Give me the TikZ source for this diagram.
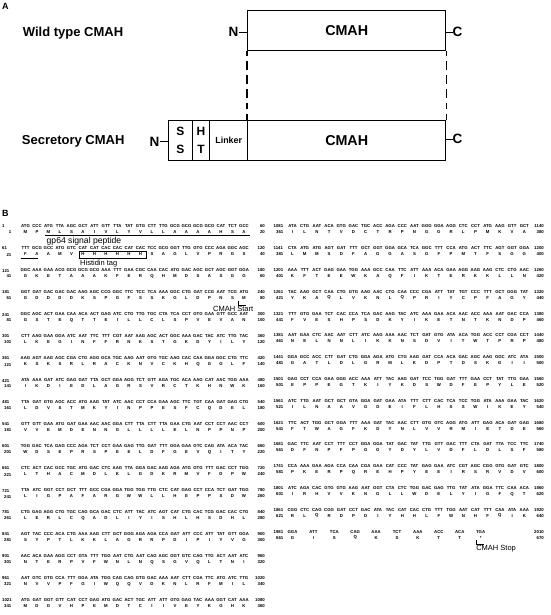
\documentclass[tikz,border=0pt]{standalone}
\usepackage{fontspec}
\setmainfont{Liberation Sans}
\usetikzlibrary{calc}
\tikzset{
 box/.style={draw, line width=1.4pt, inner sep=0, anchor=north west},
 lbl/.style={font=\fontsize{13}{15}\selectfont\bfseries, inner sep=0},
 nc/.style={font=\fontsize{13.5}{15}\selectfont\bfseries, inner sep=0},
 ln/.style={line width=1.4pt},
 seq/.style={font=\fontsize{4.3}{5}\selectfont\bfseries, inner sep=0},
 ann/.style={font=\fontsize{8.6}{10}\selectfont, inner sep=0, anchor=west},
 anns/.style={font=\fontsize{7.5}{9}\selectfont, inner sep=0, anchor=west},
 mk/.style={line width=0.9pt},
 vdash/.style={line width=1.4pt, dash pattern=on 5pt off 5pt on 8.5pt off 5.5pt on 8.5pt off 5.5pt on 8.5pt off 5.5pt on 6pt off 5pt on 7pt}
}
\newcommand\seqcolL{\def\cnx{2}\def\cxo{25.5}\def\cdx{11.5}\def\cex{265}\def\cpx{11.5}\def\cyo{226.5}\def\cdy{22}}
\newcommand\seqcolR{\def\cnx{273.5}\def\cxo{292.5}\def\cdx{12.2}\def\cex{544}\def\cpx{283.5}\def\cyo{226.5}\def\cdy{21.8}}
\newcommand\seqcolS{\def\cnx{273.5}\def\cxo{292.5}\def\cdx{20.9}\def\cex{544}\def\cpx{283.5}\def\cyo{226.5}\def\cdy{21.8}}
% #1 name, #2 row index, #3 dna start, #4 codons, #5 dna end, #6 aa start, #7 aas, #8 aa end, #9 column
\newcommand\seqrow[9]{%
  \csname seqcol#9\endcsname
  \pgfmathsetmacro\yy{\cyo+\cdy*#2}%
  \pgfmathsetmacro\yp{\yy+6}%
  \node[seq,anchor=west] (#1n) at (\cnx,\yy) {#3};
  \foreach \c [count=\i] in {#4} {\node[seq] (#1c\i) at ({\cxo+(\i-1)*\cdx},\yy) {\c};}
  \node[seq,anchor=east] (#1e) at (\cex,\yy) {#5};
  \node[seq,anchor=east] (#1m) at (\cpx,\yp) {#6};
  \foreach \c [count=\i] in {#7} {\node[seq] (#1p\i) at ({\cxo+(\i-1)*\cdx},\yp) {\c};}
  \node[seq,anchor=east] (#1f) at (\cex,\yp) {#8};
}
\begin{document}
\begin{tikzpicture}[x=1pt,y=-1pt]
\useasboundingbox (0,0) rectangle (550,615);
% ---------- Panel A ----------
\node[font=\fontsize{9}{10}\selectfont\bfseries, inner sep=0, anchor=west] (pA) at (2,6) {A};
\node[lbl, anchor=west] (wtl) at (22.7,33.3) {Wild type CMAH};
\node[lbl, anchor=west] (scl) at (21.7,141.7) {Secretory CMAH};
\node[box, minimum width=198pt, minimum height=40pt, font=\fontsize{14.3}{16}\selectfont\bfseries] (wt) at (247,10) {CMAH};
\node[nc, anchor=east] (wN) at (238.5,32.3) {N};
\draw[ln] (wN.east) -- (wN.east -| wt.west);
\node[nc, anchor=west] (wC) at (452.5,32.3) {C};
\draw[ln] (wC.west -| wt.east) -- (wC.west);
\node[box, minimum width=23.5pt, minimum height=40pt, align=center, font=\fontsize{12}{18}\selectfont\bfseries] (ss) at (168,120) {S\\S};
\node[box, minimum width=17.5pt, minimum height=40pt, align=center, font=\fontsize{12}{18}\selectfont\bfseries] (ht) at (191.5,120) {H\\T};
\node[box, minimum width=38pt, minimum height=40pt, font=\fontsize{8.9}{10}\selectfont\bfseries] (lk) at (209,120) {Linker};
\node[box, minimum width=198pt, minimum height=40pt, font=\fontsize{14.3}{16}\selectfont\bfseries] (cm) at (247,120) {CMAH};
\node[nc, anchor=east] (sN) at (159.5,141.7) {N};
\draw[ln] (sN.east) -- (sN.east -| ss.west);
\node[nc, anchor=west] (sC) at (452.5,139.3) {C};
\draw[ln] (sC.west -| cm.east) -- (sC.west);
\draw[vdash] (wt.south west) -- (cm.north west);
\draw[vdash] (wt.south east) -- (cm.north east);
% ---------- Panel B ----------
\node[font=\fontsize{9}{10}\selectfont\bfseries, inner sep=0, anchor=west] (pB) at (2,213) {B};
\seqrow{La}{0}{1}{ATG,CCC,ATG,TTA,AGC,GCT,ATT,GTT,TTA,TAT,GTG,CTT,TTG,GCG,GCG,GCG,GCG,CAT,TCT,GCC}{60}{1}{M,P,M,L,S,A,I,V,L,Y,V,L,L,A,A,A,A,H,S,A}{20}{L}
\seqrow{Lb}{1}{61}{TTT,GCG,GCC,ATG,GTC,CAT,CAT,CAC,CAC,CAT,CAC,TCC,GCG,GGT,TTG,GTG,CCC,AGA,GGC,AGC}{120}{21}{F,A,A,M,V,H,H,H,H,H,H,S,A,G,L,V,P,R,G,S}{40}{L}
\seqrow{Lc}{2}{121}{GGC,AAA,GAA,ACG,GCG,GCG,GCG,AAA,TTT,GAA,CGC,CAA,CAC,ATG,GAC,AGC,GCT,AGC,GGT,GGA}{180}{41}{G,K,E,T,A,A,A,K,F,E,R,Q,H,M,D,S,A,S,G,G}{60}{L}
\seqrow{Ld}{3}{181}{GGT,GAT,GAC,GAC,GAC,AAG,AGC,CCG,GGC,TTC,TCC,TCA,AAA,GGC,CTG,GAT,CCG,AAT,TCG,ATG}{240}{61}{G,D,D,D,D,K,S,P,G,F,S,S,K,G,L,D,P,N,S,M}{80}{L}
\seqrow{Le}{4}{241}{GGC,AGC,ACT,GAA,CAA,ACA,ACT,GAG,ATC,CTG,TTG,TGC,CTA,TCA,CCT,GTG,GAA,GTT,GCC,AAT}{300}{81}{G,S,T,E,Q,T,T,E,I,L,L,C,L,S,P,V,E,V,A,N}{100}{L}
\seqrow{Lf}{5}{301}{CTT,AAG,GAA,GGA,ATC,AAT,TTC,TTT,CGT,AAT,AAG,AGC,ACT,GGC,AAA,GAC,TAC,ATC,TTG,TAC}{360}{101}{L,K,E,G,I,N,F,F,R,N,K,S,T,G,K,D,Y,I,L,Y}{120}{L}
\seqrow{Lg}{6}{361}{AAG,AGT,AAG,AGC,CGA,CTG,AGG,GCA,TGC,AAG,AAT,GTG,TGC,AAG,CAC,CAA,GGA,GGC,CTG,TTC}{420}{121}{K,S,K,S,R,L,R,A,C,K,N,V,C,K,H,Q,G,G,L,F}{140}{L}
\seqrow{Lh}{7}{421}{ATA,AAA,GAT,ATC,GAG,GAT,TTA,GCT,GGA,AGG,TCT,GTT,AGA,TGC,ACA,AAG,CAT,AAC,TGG,AAA}{480}{141}{I,K,D,I,E,D,L,A,G,R,S,V,R,C,T,K,H,N,W,K}{160}{L}
\seqrow{Li}{8}{481}{TTA,GAT,GTG,AGC,ACC,ATG,AAG,TAT,ATC,AAC,CCT,CCA,GAA,AGC,TTC,TGT,CAA,GAT,GAG,CTG}{540}{161}{L,D,V,S,T,M,K,Y,I,N,P,P,E,S,F,C,Q,D,E,L}{180}{L}
\seqrow{Lj}{9}{541}{GTT,GTT,GAA,ATG,GAT,GAA,AAC,AAC,GGA,CTT,TTA,CTT,TTA,GAA,CTG,AAT,CCT,CCT,AAC,CCT}{600}{181}{V,V,E,M,D,E,N,N,G,L,L,L,L,E,L,N,P,P,N,P}{200}{L}
\seqrow{Lk}{10}{601}{TGG,GAC,TCA,GAG,CCC,AGA,TCT,CCT,GAA,GAG,TTG,GAT,TTT,GGA,GAA,GTC,CAG,ATA,ACA,TAC}{660}{201}{W,D,S,E,P,R,S,P,E,E,L,D,F,G,E,V,Q,I,T,Y}{220}{L}
\seqrow{Ll}{11}{661}{CTC,ACT,CAC,GCC,TGC,ATG,GAC,CTC,AAG,TTA,GGA,GAC,AAG,AGA,ATG,GTG,TTT,GAC,CCT,TGG}{720}{221}{L,T,H,A,C,M,D,L,K,L,G,D,K,R,M,V,F,D,P,W}{240}{L}
\seqrow{Lm}{12}{721}{TTA,ATC,GGT,CCT,GCT,TTT,GCC,CGA,GGA,TGG,TGG,TTG,CTC,CAT,GAG,CCT,CCA,TCT,GAT,TGG}{780}{241}{L,I,G,P,A,F,A,R,G,W,W,L,L,H,E,P,P,S,D,W}{260}{L}
\seqrow{Lo}{13}{781}{CTG,GAG,AGG,CTG,TGC,CAG,GCA,GAC,CTC,ATT,TAC,ATC,AGT,CAT,CTG,CAC,TCG,GAC,CAC,CTG}{840}{261}{L,E,R,L,C,Q,A,D,L,I,Y,I,S,H,L,H,S,D,H,L}{280}{L}
\seqrow{Lq}{14}{841}{AGT,TAC,CCC,ACA,CTG,AAA,AAG,CTT,GCT,GGG,AGA,AGA,CCA,GAT,ATT,CCC,ATT,TAT,GTT,GGA}{900}{281}{S,Y,P,T,L,K,K,L,A,G,R,R,P,D,I,P,I,Y,V,G}{300}{L}
\seqrow{Lr}{15}{901}{AAC,ACA,GAA,AGG,CCT,GTA,TTT,TGG,AAT,CTG,AAT,CAG,AGC,GGT,GTC,CAG,TTG,ACT,AAT,ATC}{960}{301}{N,T,E,R,P,V,F,W,N,L,N,Q,S,G,V,Q,L,T,N,I}{320}{L}
\seqrow{Ls}{16}{961}{AAT,GTC,GTG,CCA,TTT,GGA,ATA,TGG,CAG,CAG,GTG,GAC,AAA,AAT,CTT,CGA,TTC,ATG,ATC,TTG}{1020}{321}{N,V,V,P,F,G,I,W,Q,Q,V,D,K,N,L,R,F,M,I,L}{340}{L}
\seqrow{Lt}{17}{1021}{ATG,GAT,GGT,GTT,CAT,CCT,GAG,ATG,GAC,ACT,TGC,ATT,ATT,GTG,GAG,TAC,AAA,GGT,CAT,AAA}{1080}{341}{M,D,G,V,H,P,E,M,D,T,C,I,I,V,E,Y,K,G,H,K}{360}{L}
% right column
\seqrow{Ra}{0}{1081}{ATA,CTG,AAT,ACA,GTG,GAC,TGC,ACC,AGA,CCC,AAT,GGG,GGA,AGG,CTC,CCT,ATG,AAG,GTT,GCT}{1140}{361}{I,L,N,T,V,D,C,T,R,P,N,G,G,R,L,P,M,K,V,A}{380}{R}
\seqrow{Rb}{1}{1141}{CTA,ATG,ATG,AGT,GAT,TTT,GCT,GGT,GGA,GCA,TCA,GGC,TTT,CCA,ATG,ACT,TTC,AGT,GGT,GGA}{1200}{381}{L,M,M,S,D,F,A,G,G,A,S,G,F,P,M,T,F,S,G,G}{400}{R}
\seqrow{Rc}{2}{1201}{AAA,TTT,ACT,GAG,GAA,TGG,AAA,GCC,CAA,TTC,ATT,AAA,ACA,GAA,AGG,AAG,AAG,CTC,CTG,AAC}{1260}{401}{K,F,T,E,E,W,K,A,Q,F,I,K,T,E,R,K,K,L,L,N}{420}{R}
\seqrow{Rd}{3}{1261}{TAC,AAG,GCT,CAA,CTG,GTG,AAG,AAC,CTG,CAA,CCC,CGA,ATT,TAT,TGT,CCC,TTT,GCT,GGG,TAT}{1320}{421}{Y,K,A,Q,L,V,K,N,L,Q,P,R,I,Y,C,P,F,A,G,Y}{440}{R}
\seqrow{Re}{4}{1321}{TTT,GTG,GAA,TCT,CAC,CCA,TCA,GAC,AAG,TAC,ATC,AAA,GAA,ACA,AAC,ACC,AAA,AAT,GAC,CCA}{1380}{441}{F,V,E,S,H,P,S,D,K,Y,I,K,E,T,N,T,K,N,D,P}{460}{R}
\seqrow{Rf}{5}{1381}{AAT,GAA,CTC,AAC,AAT,CTT,ATC,AAG,AAA,AAC,TCT,GAT,GTG,ATA,ACA,TGG,ACC,CCT,CGA,CCT}{1440}{461}{N,E,L,N,N,L,I,K,K,N,S,D,V,I,T,W,T,P,R,P}{480}{R}
\seqrow{Rg}{6}{1441}{GGA,GCC,ACC,CTT,GAT,CTG,GGA,AGA,ATG,CTG,AAG,GAT,CCA,ACA,GAC,AGC,AAG,GGC,ATC,ATA}{1500}{481}{G,A,T,L,D,L,G,R,M,L,K,D,P,T,D,S,K,G,I,I}{500}{R}
\seqrow{Rh}{7}{1501}{GAG,CCT,CCA,GAA,GGG,ACC,AAA,ATT,TAC,AAG,GAT,TCC,TGG,GAT,TTT,GAA,CCT,TAT,TTG,GAA}{1560}{501}{E,P,P,E,G,T,K,I,Y,K,D,S,W,D,F,E,P,Y,L,E}{520}{R}
\seqrow{Ri}{8}{1561}{ATC,TTG,AAT,GCT,GCT,GTA,GGA,GAT,GAA,ATA,TTT,CTT,CAC,TCA,TCC,TGG,ATA,AAA,GAA,TAC}{1620}{521}{I,L,N,A,A,V,G,D,E,I,F,L,H,S,S,W,I,K,E,Y}{540}{R}
\seqrow{Rj}{9}{1621}{TTC,ACT,TGG,GCT,GGA,TTT,AAA,GAT,TAC,AAC,CTT,GTG,GTC,AGG,ATG,ATT,GAG,ACA,GAT,GAG}{1680}{541}{F,T,W,A,G,F,K,D,Y,N,L,V,V,R,M,I,E,T,D,E}{560}{R}
\seqrow{Rk}{10}{1681}{GAC,TTC,AAT,CCT,TTT,CCT,GGA,GGA,TAT,GAC,TAT,TTG,GTT,GAC,TTT,CTA,GAT,TTA,TCC,TTC}{1740}{561}{D,F,N,P,F,P,G,G,Y,D,Y,L,V,D,F,L,D,L,S,F}{580}{R}
\seqrow{Rl}{11}{1741}{CCA,AAA,GAA,AGA,CCA,CAA,CGA,GAA,CAT,CCC,TAT,GAG,GAA,ATC,CGT,AGC,CGG,GTG,GAT,GTC}{1800}{581}{P,K,E,R,P,Q,R,E,H,P,Y,E,E,I,R,S,R,V,D,V}{600}{R}
\seqrow{Rm}{12}{1801}{ATC,AGA,CAC,GTG,GTG,AAG,AAT,GGT,CTA,CTC,TGG,GAC,GAG,TTG,TAT,ATA,GGA,TTC,CAA,ACA}{1860}{601}{I,R,H,V,V,K,N,G,L,L,W,D,E,L,Y,I,G,F,Q,T}{620}{R}
\seqrow{Ro}{13}{1861}{CGG,CTC,CAG,CGG,GAT,CCT,GAC,ATA,TAC,CAT,CAC,CTG,TTT,TGG,AAT,CAT,TTT,CAA,ATA,AAA}{1920}{621}{R,L,Q,R,D,P,D,I,Y,H,H,L,F,W,N,H,F,Q,I,K}{640}{R}
\seqrow{Rq}{14}{1981}{GGA,ATT,TCA,CAG,AAA,TCT,AAA,ACC,ACA,TGA}{2010}{661}{G,I,S,Q,K,S,K,T,T,*}{670}{S}
% ---------- annotations ----------
\draw[mk] ($(Lap3)+(-3.5,3.2)$) -- ($(Lap20)+(6,3.2)$);
\node[ann] (gp) at (46.5,241) {gp64 signal peptide};
\draw[mk] ($(Lbp1)+(-5,3.8)$) -- ($(Lbp2)+(0.5,3.8)$);
\draw[mk] ($(Lbp6)+(-3.5,-2.8)$) rectangle ($(Lbp11)+(6,4)$);
\node[anns] (his) at (80,263.5) {Histidin tag};
\draw[mk] ($(Ldp20)+(-5.7,2.5)$) |- ($(Ldp20)+(1.5,7)$);
\node[anns] (cst) at (213,308.7) {CMAH Start};
\draw[mk] ($(Rqp10)+(-4,2.5)$) |- ($(Rqp10)+(3,7)$);
\node[anns] (csp) at ($(Rqp10)+(-4.5,10.5)$) {CMAH Stop};
\end{tikzpicture}
\end{document}
